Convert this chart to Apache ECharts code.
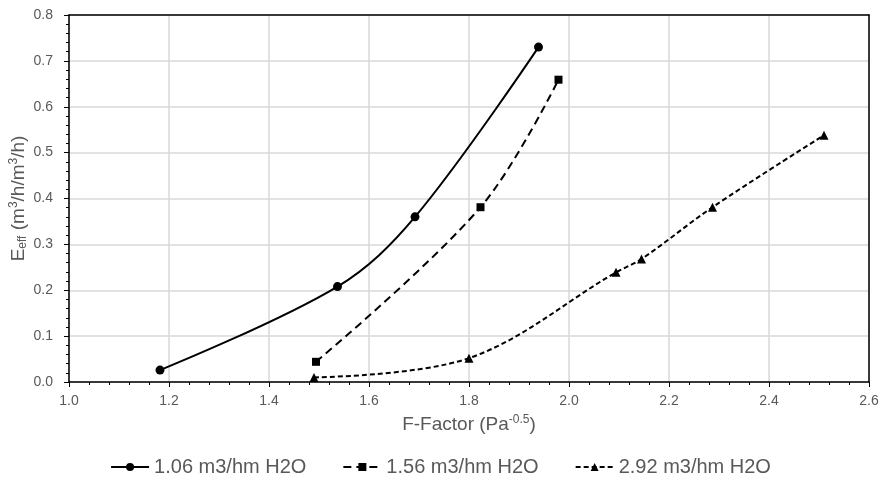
<!DOCTYPE html>
<html>
<head>
<meta charset="utf-8">
<script src="https://cdn.jsdelivr.net/npm/echarts@6/dist/echarts.min.js"></script>
<style>html,body{margin:0;padding:0;background:#fff}#c{width:881px;height:482px}</style>
</head>
<body>
<div id="c"></div>
<script>
const seriesNames = ['1.06 m3/hm H2O', '1.56 m3/hm H2O', '2.92 m3/hm H2O'];
const s1 = [[1.182, 0.026], [1.537, 0.208], [1.692, 0.360], [1.939, 0.730]];
const s2 = [[1.494, 0.044], [1.823, 0.381], [1.979, 0.659]];
const s3 = [[1.490, 0.010], [1.800, 0.052], [2.094, 0.239], [2.145, 0.268], [2.287, 0.381], [2.510, 0.538]];
const xTicks = [1.0, 1.2, 1.4, 1.6, 1.8, 2.0, 2.2, 2.4, 2.6];
const yTicks = [0.0, 0.1, 0.2, 0.3, 0.4, 0.5, 0.6, 0.7, 0.8];

const chart = echarts.init(document.getElementById('c'));
const font = 'Liberation Sans, Arial, sans-serif';
const labelColor = '#595959';
const frameAxis = (pos) => ({
  type: 'value', position: pos, min: pos === 'top' ? xTicks[0] : yTicks[0],
  max: pos === 'top' ? xTicks[xTicks.length - 1] : yTicks[yTicks.length - 1],
  axisLine: { show: true, onZero: false, lineStyle: { color: '#000', width: 1.5 } },
  axisTick: { show: false }, axisLabel: { show: false }, splitLine: { show: false }, z: 10
});
chart.setOption({
  animation: false,
  textStyle: { fontFamily: font },
  grid: { left: 69, right: 12, top: 15, bottom: 100, containLabel: false, outerBoundsMode: 'none' },
  legend: {
    bottom: 0, left: 'center', itemWidth: 38, itemHeight: 10, itemGap: 36,
    textStyle: { fontFamily: font, fontSize: 20, color: labelColor },
    data: seriesNames
  },
  xAxis: [{
    type: 'value', min: xTicks[0], max: xTicks[xTicks.length - 1], interval: 0.2,
    name: '{a|F-Factor (Pa}{s|-0.5}{a|)}', nameLocation: 'middle', nameGap: 32, nameMoveOverlap: false,
    nameTextStyle: { rich: { a: { fontSize: 19, color: labelColor, fontFamily: font }, s: { fontSize: 12, color: labelColor, fontFamily: font, verticalAlign: 'top', padding: [0, 0, 9, 0] } } },
    axisLine: { show: true, onZero: false, lineStyle: { color: '#000', width: 1.5 } },
    axisTick: { show: true, length: 5, lineStyle: { color: '#000' } },
    minorTick: { show: true, splitNumber: 5, length: 3, lineStyle: { color: '#000' } },
    splitLine: { show: true, lineStyle: { color: '#d9d9d9', width: 1.5 } },
    axisLabel: { color: labelColor, fontSize: 14, fontFamily: font, margin: 12, formatter: v => v.toFixed(1) }
  }, frameAxis('top')],
  yAxis: [{
    type: 'value', min: yTicks[0], max: yTicks[yTicks.length - 1], interval: 0.1,
    name: '{a|E}{b|eff}{a| (m}{s|3}{a|/h/m}{s|3}{a|/h)}', nameLocation: 'middle', nameGap: 40, nameRotate: 90, nameMoveOverlap: false,
    nameTextStyle: { rich: {
      a: { fontSize: 19, color: labelColor, fontFamily: font },
      b: { fontSize: 12, color: labelColor, fontFamily: font, verticalAlign: 'bottom', padding: [7, 0, 0, 0] },
      s: { fontSize: 12, color: labelColor, fontFamily: font, verticalAlign: 'top', padding: [0, 0, 9, 0] }
    } },
    axisLine: { show: true, onZero: false, lineStyle: { color: '#000', width: 1.5 } },
    axisTick: { show: true, length: 5, lineStyle: { color: '#000' } },
    minorTick: { show: true, splitNumber: 5, length: 3, lineStyle: { color: '#000' } },
    splitLine: { show: true, lineStyle: { color: '#d9d9d9', width: 1.5 } },
    axisLabel: { color: labelColor, fontSize: 14, fontFamily: font, margin: 16, formatter: v => v.toFixed(1) }
  }, frameAxis('right')],
  series: [
    { name: seriesNames[0], type: 'line', data: s1, smooth: 0.35, symbol: 'circle', symbolSize: 9,
      lineStyle: { color: '#000', width: 2, type: 'solid' }, itemStyle: { color: '#000' } },
    { name: seriesNames[1], type: 'line', data: s2, smooth: 0.35, symbol: 'rect', symbolSize: 8,
      lineStyle: { color: '#000', width: 2, type: [8, 5] }, itemStyle: { color: '#000' } },
    { name: seriesNames[2], type: 'line', data: s3, smooth: 0.35, symbol: 'triangle', symbolSize: 9,
      lineStyle: { color: '#000', width: 2, type: [5, 3] }, itemStyle: { color: '#000' } }
  ]
});
</script>
</body>
</html>
